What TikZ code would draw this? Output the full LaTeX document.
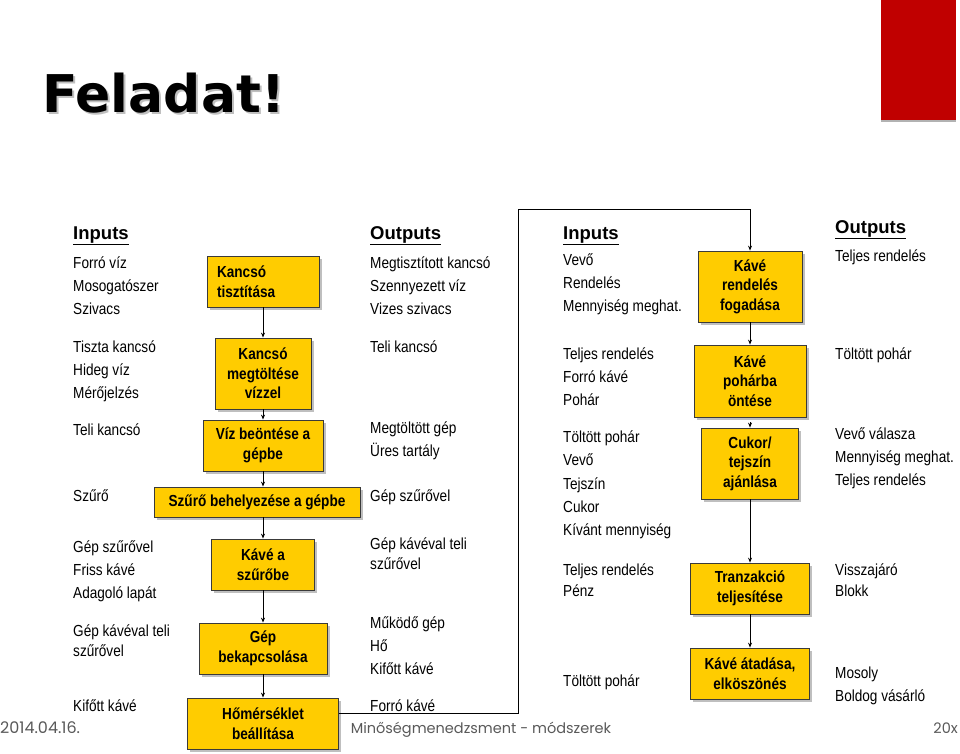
\documentclass[tikz,border=0pt]{standalone}
\usepackage{fontspec}
\usepackage{xcolor}
\usetikzlibrary{arrows.meta,positioning,calc,shadows}
\newfontfamily\narrowsf{Liberation Sans}[FakeStretch=0.85]
\newfontfamily\headsf{Liberation Sans}
\newfontfamily\titlesf{DejaVu Sans}
\newfontfamily\footsf{Poppins}
\definecolor{boxGold}{HTML}{FFCC00}
\definecolor{boxEdge}{HTML}{3A3A3A}
\definecolor{slideRed}{HTML}{C00000}
\definecolor{footGray}{HTML}{595959}

\begin{document}
\begin{tikzpicture}[x=1pt,y=-1pt,
    procbox/.style={draw=boxEdge,fill=boxGold,line width=0.8pt,
                    inner sep=2pt,align=center,
                    font=\narrowsf\bfseries\fontsize{16}{19.5}\selectfont,
                    drop shadow={shadow xshift=2.5pt,shadow yshift=-2.5pt,
                                 fill=black!25,opacity=1}},
    txt/.style={anchor=base west,inner sep=0pt,
                font=\narrowsf\fontsize{16}{19}\selectfont},
    head/.style={anchor=base west,inner sep=0pt,
                 font=\headsf\bfseries\fontsize{18.5}{22}\selectfont},
    foot/.style={anchor=base,inner sep=0pt,text=footGray,
                 font=\footsf\fontsize{14.5}{17}\selectfont},
    flow/.style={line width=0.9pt,-{Stealth[length=5pt,width=4pt]}}
  ]
  \useasboundingbox (0,0) rectangle (960,754);
  %% Title and corner mark
  \fill[slideRed,drop shadow={shadow xshift=0pt,shadow yshift=-2pt,
        fill=black!30,opacity=1}] (881,0) rectangle (956,120);
  \node[anchor=base west,inner sep=0pt,text=black!25,
        font=\titlesf\bfseries\fontsize{52}{60}\selectfont] (titleshd) at (44,115) {Feladat!};
  \node[anchor=base west,inner sep=0pt,
        font=\titlesf\bfseries\fontsize{52}{60}\selectfont] (title) at (42,113) {Feladat!};
  %% Footer
  \node[foot,anchor=base west,font=\footsf\fontsize{16}{18}\selectfont] (date) at (0,733) {2014.04.16.};
  \node[foot] (course) at (481,733) {Minőségmenedzsment - módszerek};
  \node[foot,anchor=base east] (page) at (958,733) {20x};
  %% Column headings
  \node[head] (inL)  at (73,239)  {\underline{Inputs}};
  \node[head] (outL) at (370,239) {\underline{Outputs}};
  \node[head] (inR)  at (563,239) {\underline{Inputs}};
  \node[head] (outR) at (835,233) {\underline{Outputs}};
  %% Left inputs
  \foreach \y/\t [count=\i] in {268/Forró víz, 291/Mosogatószer, 314/Szivacs,
      352/Tiszta kancsó, 375/Hideg víz, 398/Mérőjelzés, 435/Teli kancsó,
      501/Szűrő, 552/Gép szűrővel, 575/Friss kávé, 598/Adagoló lapát,
      636/Gép kávéval teli, 656/szűrővel, 711/Kifőtt kávé}
    \node[txt] (il\i) at (73,\y) {\t};
  %% Left outputs
  \foreach \y/\t [count=\i] in {268/Megtisztított kancsó, 291/Szennyezett víz,
      314/Vizes szivacs, 352/Teli kancsó, 433/Megtöltött gép, 456/Üres tartály,
      501/Gép szűrővel, 549/Gép kávéval teli, 569/szűrővel, 628/Működő gép,
      651/Hő, 674/Kifőtt kávé, 711/Forró kávé}
    \node[txt] (ol\i) at (370,\y) {\t};
  %% Right inputs
  \foreach \y/\t [count=\i] in {265/Vevő, 288/Rendelés, 311/Mennyiség meghat.,
      359/Teljes rendelés, 382/Forró kávé, 405/Pohár, 442/Töltött pohár,
      465/Vevő, 489/Tejszín, 512/Cukor, 535/Kívánt mennyiség,
      575/Teljes rendelés, 596/Pénz, 686/Töltött pohár}
    \node[txt] (ir\i) at (563,\y) {\t};
  %% Right outputs
  \foreach \y/\t [count=\i] in {261/Teljes rendelés, 359/Töltött pohár,
      439/Vevő válasza, 462/Mennyiség meghat., 485/Teljes rendelés,
      575/Visszajáró, 596/Blokk, 678/Mosoly, 701/Boldog vásárló}
    \node[txt] (or\i) at (835,\y) {\t};
  %% Brewing steps
  \node[procbox,minimum width=112pt,minimum height=51pt,text width=92pt,align=left]
       (kt) at (263,281.5) {Kancsó\\tisztítása};
  \node[procbox,minimum width=96pt,minimum height=71pt]  (km) at (263,373.5) {Kancsó\\megtöltése\\vízzel};
  \node[procbox,minimum width=120pt,minimum height=51pt] (vb) at (263,445.5) {Víz beöntése a\\gépbe};
  \node[procbox,minimum width=206pt,minimum height=30pt] (sb) at (257,502)   {Szűrő behelyezése a gépbe};
  \node[procbox,minimum width=103pt,minimum height=51pt] (ks) at (263,564.5) {Kávé a\\szűrőbe};
  \node[procbox,minimum width=128pt,minimum height=51pt] (gb) at (263,648.5) {Gép\\bekapcsolása};
  \node[procbox,minimum width=151pt,minimum height=51pt] (hb) at (263,723.5) {Hőmérséklet\\beállítása};
  %% Serving steps
  \node[procbox,minimum width=104pt,minimum height=71pt] (kr) at (750,286.5) {Kávé\\rendelés\\fogadása};
  \node[procbox,minimum width=112pt,minimum height=72pt] (kp) at (750,381)   {Kávé\\pohárba\\öntése};
  \node[procbox,minimum width=97pt,minimum height=71pt]  (ca) at (750,463.5) {Cukor/\\tejszín\\ajánlása};
  \node[procbox,minimum width=119pt,minimum height=51pt] (tt) at (750,588.5) {Tranzakció\\teljesítése};
  \node[procbox,minimum width=119pt,minimum height=51pt] (ka) at (750,673.5) {Kávé átadása,\\elköszönés};
  %% Flow
  \draw[flow] (kt) -- (km);
  \draw[flow] (km) -- (vb);
  \draw[flow] (vb.south) -- (vb.south |- sb.north);
  \draw[flow] (ks.north |- sb.south) -- (ks.north);
  \draw[flow] (ks) -- (gb);
  \draw[flow] (gb) -- (hb);
  \draw[flow] (kr) -- (kp);
  \draw[flow,shorten <=5pt] (kp) -- (ca);
  \draw[flow] (ca) -- (tt);
  \draw[flow] (tt) -- (ka);
  %% Link from brewing to serving
  \coordinate (loopB) at (518,713);
  \coordinate (loopT) at (518,209);
  \draw[flow] (hb.east |- loopB) -- (loopB) -- (loopT) -| (kr.north);
\end{tikzpicture}
\end{document}
